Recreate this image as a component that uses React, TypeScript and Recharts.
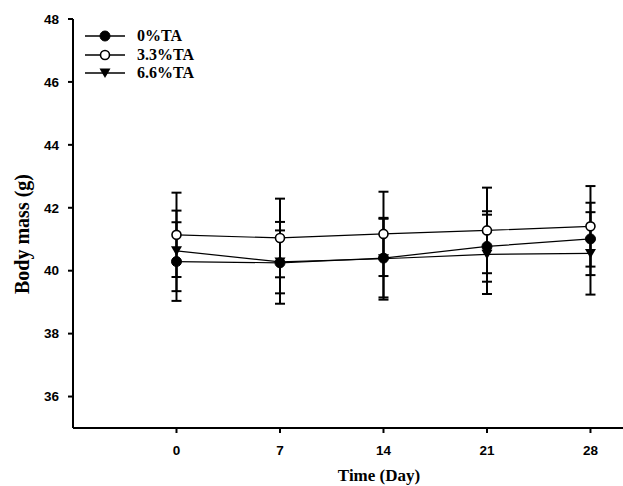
import React from "react";
import {
  LineChart,
  Line,
  XAxis,
  YAxis,
  ErrorBar,
  Legend,
  Label,
} from "recharts";

const days = [0, 7, 14, 21, 28];
const ta0 = [40.29, 40.25, 40.4, 40.77, 41.01];
const ta0Err = [1.25, 1.3, 1.25, 1.12, 1.15];
const ta33 = [41.14, 41.04, 41.17, 41.28, 41.41];
const ta33Err = [1.34, 1.25, 1.34, 1.36, 1.28];
const ta66 = [40.63, 40.28, 40.38, 40.52, 40.55];
const ta66Err = [1.28, 1.0, 1.3, 1.26, 1.31];
const yTicks = [36, 38, 40, 42, 44, 46, 48];
const seriesNames = ["0%TA", "3.3%TA", "6.6%TA"];

const data = days.map((d, i) => ({
  day: d,
  ta0: ta0[i],
  ta0Err: ta0Err[i],
  ta33: ta33[i],
  ta33Err: ta33Err[i],
  ta66: ta66[i],
  ta66Err: ta66Err[i],
}));

const tickFont = {
  fontFamily: "'Liberation Sans', Arial, sans-serif",
  fontWeight: 700,
  fontSize: 13.5,
  fill: "#000",
};

const Marker = ({ kind, cx, cy }: { kind: number; cx: number; cy: number }) => {
  if (kind === 0) return <circle cx={cx} cy={cy} r={5} fill="#000" stroke="#000" />;
  if (kind === 1)
    return <circle cx={cx} cy={cy} r={4.5} fill="#fff" stroke="#000" strokeWidth={1.6} />;
  return (
    <path
      d={`M${cx - 5.5},${cy - 4.5} L${cx + 5.5},${cy - 4.5} L${cx},${cy + 5} Z`}
      fill="#000"
    />
  );
};

const dotFor = (kind: number) => (props: any) =>
  props.cx == null ? (
    <g key={`e-${kind}-${props.index}`} />
  ) : (
    <g key={`d-${kind}-${props.index}`}>
      <Marker kind={kind} cx={props.cx} cy={props.cy} />
    </g>
  );

const renderLegend = () => (
  <div>
    {seriesNames.map((name, i) => (
      <div key={name} style={{ display: "flex", alignItems: "center", height: 18.4 }}>
        <svg width={57} height={18}>
          <line x1={5} y1={9} x2={45} y2={9} stroke="#000" strokeWidth={1.3} />
          <Marker kind={i} cx={25} cy={9} />
        </svg>
        <span
          style={{
            fontFamily: "'Liberation Serif', 'Times New Roman', serif",
            fontWeight: 700,
            fontSize: 16,
            color: "#000",
            lineHeight: "18px",
          }}
        >
          {name}
        </span>
      </div>
    ))}
  </div>
);

const titleStyle = {
  fontFamily: "'Liberation Serif', 'Times New Roman', serif",
  fontWeight: 700,
  fontSize: 17,
  fill: "#000",
};

export default function App() {
  return (
    <div style={{ position: "absolute", left: 0, top: 0, background: "#fff" }}>
      <LineChart
        width={623}
        height={486}
        data={data}
        margin={{ top: 19, right: 0, bottom: 0, left: 0 }}
      >
        <XAxis
          dataKey="day"
          type="number"
          domain={[-7, 30.2]}
          ticks={days}
          allowDataOverflow
          height={58}
          tickSize={5}
          tickMargin={12}
          axisLine={{ stroke: "#000", strokeWidth: 2 }}
          tickLine={{ stroke: "#000", strokeWidth: 2 }}
          tick={tickFont}
        >
          <Label
            content={() => (
              <text x={379} y={481} textAnchor="middle" style={titleStyle}>
                Time (Day)
              </text>
            )}
          />
        </XAxis>
        <YAxis
          type="number"
          domain={[35, 48]}
          ticks={yTicks}
          allowDataOverflow
          width={73}
          tickSize={5}
          tickMargin={9}
          axisLine={{ stroke: "#000", strokeWidth: 2 }}
          tickLine={{ stroke: "#000", strokeWidth: 2 }}
          tick={tickFont}
        >
          <Label
            content={() => (
              <text
                x={29}
                y={234}
                textAnchor="middle"
                transform="rotate(-90 29 234)"
                style={{ ...titleStyle, fontSize: 20 }}
              >
                Body mass (g)
              </text>
            )}
          />
        </YAxis>
        <Legend
          layout="vertical"
          align="center"
          verticalAlign="middle"
          content={renderLegend}
          wrapperStyle={{ left: 80, top: 27, width: 180 }}
        />
        <Line
          dataKey="ta33"
          stroke="#000"
          strokeWidth={1.2}
          dot={dotFor(1)}
          isAnimationActive={false}
        >
          <ErrorBar dataKey="ta33Err" direction="y" width={5} stroke="#000" strokeWidth={2} />
        </Line>
        <Line
          dataKey="ta66"
          stroke="#000"
          strokeWidth={1.2}
          dot={dotFor(2)}
          isAnimationActive={false}
        >
          <ErrorBar dataKey="ta66Err" direction="y" width={5} stroke="#000" strokeWidth={2} />
        </Line>
        <Line
          dataKey="ta0"
          stroke="#000"
          strokeWidth={1.2}
          dot={dotFor(0)}
          isAnimationActive={false}
        >
          <ErrorBar dataKey="ta0Err" direction="y" width={5} stroke="#000" strokeWidth={2} />
        </Line>
      </LineChart>
    </div>
  );
}
